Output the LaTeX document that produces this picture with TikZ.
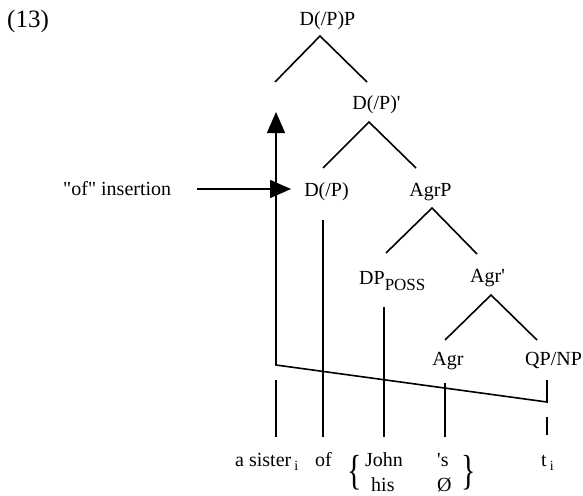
\documentclass[tikz,border=0pt]{standalone}
\usepackage{fontspec}
\setmainfont{Liberation Serif}[Ligatures=TeXOff]
\usetikzlibrary{arrows.meta}
\begin{document}
\begin{tikzpicture}[x=1pt,y=-1pt,
  lbl/.style={inner sep=0pt, font=\fontsize{20}{24}\selectfont, anchor=base},
  lblw/.style={lbl, anchor=base west},
  branch/.style={line width=1.6pt},
  tipline/.style={line width=1.6pt, -{Triangle[length=21pt,width=18pt]}},
  brace/.style={inner sep=0pt, font=\fontsize{20}{24}\selectfont, anchor=center}]
\useasboundingbox (0,0) rectangle (583,495);
\newcommand{\mysub}[1]{\raisebox{-4pt}{\fontsize{14}{14}\selectfont #1}}
% labels
\node[lblw, font=\fontsize{25}{30}\selectfont] (ex) at (7,28) {(13)};
\node[lbl] (dpp) at (327.5,26) {D(/P)P};
\node[lbl] (dpbar) at (376.5,109) {D(/P)'};
\node[lbl] (dp) at (326.5,196) {D(/P)};
\node[lbl] (agrp) at (430.5,196) {AgrP};
\node[lblw] (poss) at (359,284) {DP\raisebox{-6pt}{\fontsize{17}{17}\selectfont POSS}};
\node[lblw] (agrbar) at (470,282) {Agr'};
\node[lbl] (agr) at (448,365) {Agr};
\node[lblw] (qp) at (525,365) {QP/NP};
\node[lblw] (ins) at (63,195) {"of" insertion};
% terminals
\node[lblw] (sis) at (235,466) {a sister\hspace{3pt}\mysub{i}};
\node[lblw] (of) at (315,466) {of};
\node[lblw] (john) at (365,466) {John};
\node[lblw] (his) at (371,491) {his};
\node[lblw] (s) at (437,466) {'s};
\node[lblw] (null) at (437,491) {Ø};
\node[lblw] (t) at (541,466) {t\hspace{3pt}\mysub{i}};
\node[brace] (lb) at (355,473) {\scalebox{1.5}[2.1]{\{}};
\node[brace] (rb) at (469,473) {\scalebox{1.5}[2.1]{\}}};
% branch points
\coordinate (a1) at (320,36);  \coordinate (l1) at (275,82);  \coordinate (r1) at (367,82);
\coordinate (a2) at (369,122); \coordinate (l2) at (323,168); \coordinate (r2) at (416,168);
\coordinate (a3) at (432,208); \coordinate (l3) at (386,253); \coordinate (r3) at (477,254);
\coordinate (a4) at (491,295); \coordinate (l4) at (445,340); \coordinate (r4) at (537,340);
\draw[branch] (l1) -- (a1) -- (r1);
\draw[branch] (l2) -- (a2) -- (r2);
\draw[branch] (l3) -- (a3) -- (r3);
\draw[branch] (l4) -- (a4) -- (r4);
% vertical lines
\coordinate (ofT) at (323,220);  \coordinate (ofB) at (323,437);
\coordinate (posT) at (384,307); \coordinate (posB) at (384,437);
\coordinate (agT) at (445,383);  \coordinate (agB) at (445,437);
\coordinate (siT) at (276,380);  \coordinate (siB) at (276,437);
\coordinate (tT) at (547,417);   \coordinate (tB) at (547,435);
\coordinate (qpT) at (547,380);  \coordinate (qpB) at (547,402);
\coordinate (corner) at (276,365); \coordinate (mvTip) at (276,112);
\draw[branch] (ofT) -- (ofB);
\draw[branch] (posT) -- (posB);
\draw[branch] (agT) -- (agB);
\draw[branch] (siT) -- (siB);
\draw[branch] (tT) -- (tB);
\draw[tipline] (qpT) -- (qpB) -- (corner) -- (mvTip);
% of insertion arrow
\coordinate (insS) at (197,189); \coordinate (insE) at (291,189);
\draw[tipline] (insS) -- (insE);
\end{tikzpicture}
\end{document}
